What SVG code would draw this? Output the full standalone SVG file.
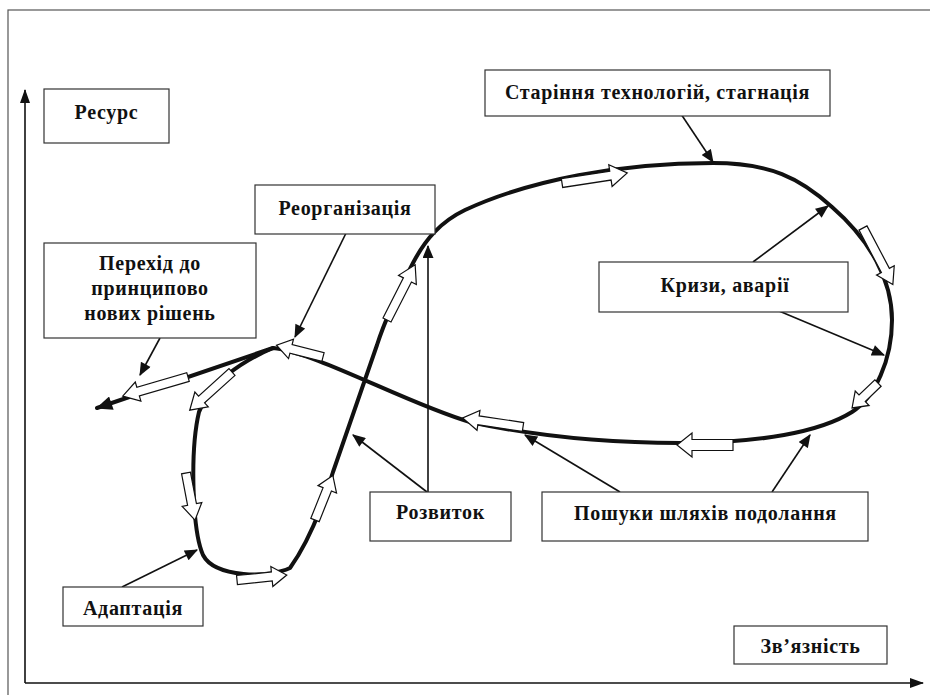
<svg xmlns="http://www.w3.org/2000/svg" width="930" height="695" viewBox="0 0 930 695">
<style>
.box{fill:#fff;stroke:#333;stroke-width:1.2}
.lbl{font-family:"Liberation Serif","Times New Roman",serif;font-weight:bold;font-size:20px;letter-spacing:0.7px;fill:#111;text-anchor:middle}
.curve{fill:none;stroke:#111;stroke-width:4;stroke-linejoin:round;stroke-linecap:round}
.ptr{fill:none;stroke:#111;stroke-width:1.6}
.blk{fill:#fff;stroke:#111;stroke-width:1.2;stroke-linejoin:miter}
.axis{fill:none;stroke:#111;stroke-width:1.6}
</style>
<defs>
<marker id="ah" viewBox="0 0 12 10" refX="11" refY="5" markerWidth="14" markerHeight="11" markerUnits="userSpaceOnUse" orient="auto">
<path d="M0,0 L12,5 L0,10 Z" fill="#111"/>
</marker>
<marker id="ax" viewBox="0 0 14 10" refX="13" refY="5" markerWidth="14" markerHeight="11" markerUnits="userSpaceOnUse" orient="auto">
<path d="M0,0 L14,5 L0,10 Z" fill="#111"/>
</marker>
<marker id="big" viewBox="0 0 14 12" refX="13" refY="6" markerWidth="17" markerHeight="14" markerUnits="userSpaceOnUse" orient="auto">
<path d="M0,0 L14,6 L0,12 Z" fill="#111"/>
</marker>
</defs>
<rect x="8" y="10" width="940" height="700" fill="#fff" stroke="#555" stroke-width="1.2"/>

<g id="axes">
<path class="axis" d="M25,683 L25,90" marker-end="url(#ax)"/>
<path class="axis" d="M25,683 L923,683" marker-end="url(#ax)"/>
</g>

<g id="connectors">
<path class="curve" d="M273,348 C315,352 410,405 470,422 C530,435 600,443 680,443 C760,443 820,432 852,412 C875,397 892,360 892,320 C892,280 870,240 832,207 C800,178 770,163 713,163 C620,163 530,180 465,210 C440,222 425,240 413,263 C398,292 385,320 377,345 L333,472 C323,505 310,540 290,568 C270,578 215,578 203,555 C192,530 190,450 199,412 C208,385 240,362 273,348 Z"/>
<path class="curve" d="M273,348 L97,408" marker-end="url(#big)" stroke-width="3.5" stroke-linecap="butt"/>

<path class="ptr" d="M677,108 L713,162" marker-end="url(#ah)"/>
<path class="ptr" d="M753,262 L828,206" marker-end="url(#ah)"/>
<path class="ptr" d="M753,300 L884,355" marker-end="url(#ah)"/>
<path class="ptr" d="M350,225 L295,337" marker-end="url(#ah)"/>
<path class="ptr" d="M160,338 L140,375" marker-end="url(#ah)"/>
<path class="ptr" d="M428,492 L428,246" marker-end="url(#ah)"/>
<path class="ptr" d="M427,492 L353,435" marker-end="url(#ah)"/>
<path class="ptr" d="M620,492 L525,435" marker-end="url(#ah)"/>
<path class="ptr" d="M772,492 L810,435" marker-end="url(#ah)"/>
<path class="ptr" d="M122,587 L197,550" marker-end="url(#ah)"/>

<polygon class="blk" transform="translate(188,377) rotate(163.7)" points="0,-4.5 52,-4.5 52,-10 68,0 52,10 52,4.5 0,4.5"/>
<polygon class="blk" transform="translate(323,357) rotate(194.3)" points="0,-4.5 33,-4.5 33,-10 48,0 33,10 33,4.5 0,4.5"/>
<polygon class="blk" transform="translate(232,372) rotate(137.9)" points="0,-4.5 41,-4.5 41,-10 57,0 41,10 41,4.5 0,4.5"/>
<polygon class="blk" transform="translate(186,473) rotate(79.2)" points="0,-4.5 32,-4.5 32,-10 48,0 32,10 32,4.5 0,4.5"/>
<polygon class="blk" transform="translate(237,580) rotate(-5.7)" points="0,-4.5 35,-4.5 35,-10 50,0 35,10 35,4.5 0,4.5"/>
<polygon class="blk" transform="translate(315,520) rotate(-68.2)" points="0,-4.5 33,-4.5 33,-10 48,0 33,10 33,4.5 0,4.5"/>
<polygon class="blk" transform="translate(387,320) rotate(-63)" points="0,-4.5 45,-4.5 45,-10 62,0 45,10 45,4.5 0,4.5"/>
<polygon class="blk" transform="translate(562,183) rotate(-8.7)" points="0,-4.5 49,-4.5 49,-11 66,0 49,11 49,4.5 0,4.5"/>
<polygon class="blk" transform="translate(863,228) rotate(62.2)" points="0,-4.5 48,-4.5 48,-10 64,0 48,10 48,4.5 0,4.5"/>
<polygon class="blk" transform="translate(878,383) rotate(136.1)" points="0,-4.5 22,-4.5 22,-10 36,0 22,10 22,4.5 0,4.5"/>
<polygon class="blk" transform="translate(733,445) rotate(180)" points="0,-5.5 41,-5.5 41,-12 56,0 41,12 41,5.5 0,5.5"/>
<polygon class="blk" transform="translate(523,427) rotate(188.5)" points="0,-4.5 45,-4.5 45,-10 61,0 45,10 45,4.5 0,4.5"/>
</g>

<g id="resurs"><rect class="box" x="44" y="89" width="125" height="54"/><text class="lbl" x="106.5" y="119">Ресурс</text></g>
<g id="reorganizatsiia"><rect class="box" x="255" y="185" width="180" height="49"/><text class="lbl" x="345" y="215">Реорганізація</text></g>
<g id="perekhid"><rect class="box" x="44" y="243" width="212" height="95"/><text class="lbl" x="150" y="270">Перехід до</text><text class="lbl" x="150" y="295">принципово</text><text class="lbl" x="150" y="320">нових рішень</text></g>
<g id="starinnia"><rect class="box" x="485" y="70" width="345" height="46"/><text class="lbl" x="657.5" y="99">Старіння технологій, стагнація</text></g>
<g id="kryzy"><rect class="box" x="599" y="262" width="249" height="50"/><text class="lbl" x="725" y="292">Кризи, аварії</text></g>
<g id="rozvytok"><rect class="box" x="370" y="492" width="141" height="49"/><text class="lbl" x="440.5" y="519">Розвиток</text></g>
<g id="poshuky"><rect class="box" x="542" y="492" width="326" height="49"/><text class="lbl" x="705.5" y="520">Пошуки шляхів подолання</text></g>
<g id="adaptatsiia"><rect class="box" x="63" y="587" width="140" height="39"/><text class="lbl" x="133" y="615">Адаптація</text></g>
<g id="zviaznist"><rect class="box" x="734" y="626" width="153" height="38"/><text class="lbl" x="810.5" y="653">Зв’язність</text></g>
</svg>
